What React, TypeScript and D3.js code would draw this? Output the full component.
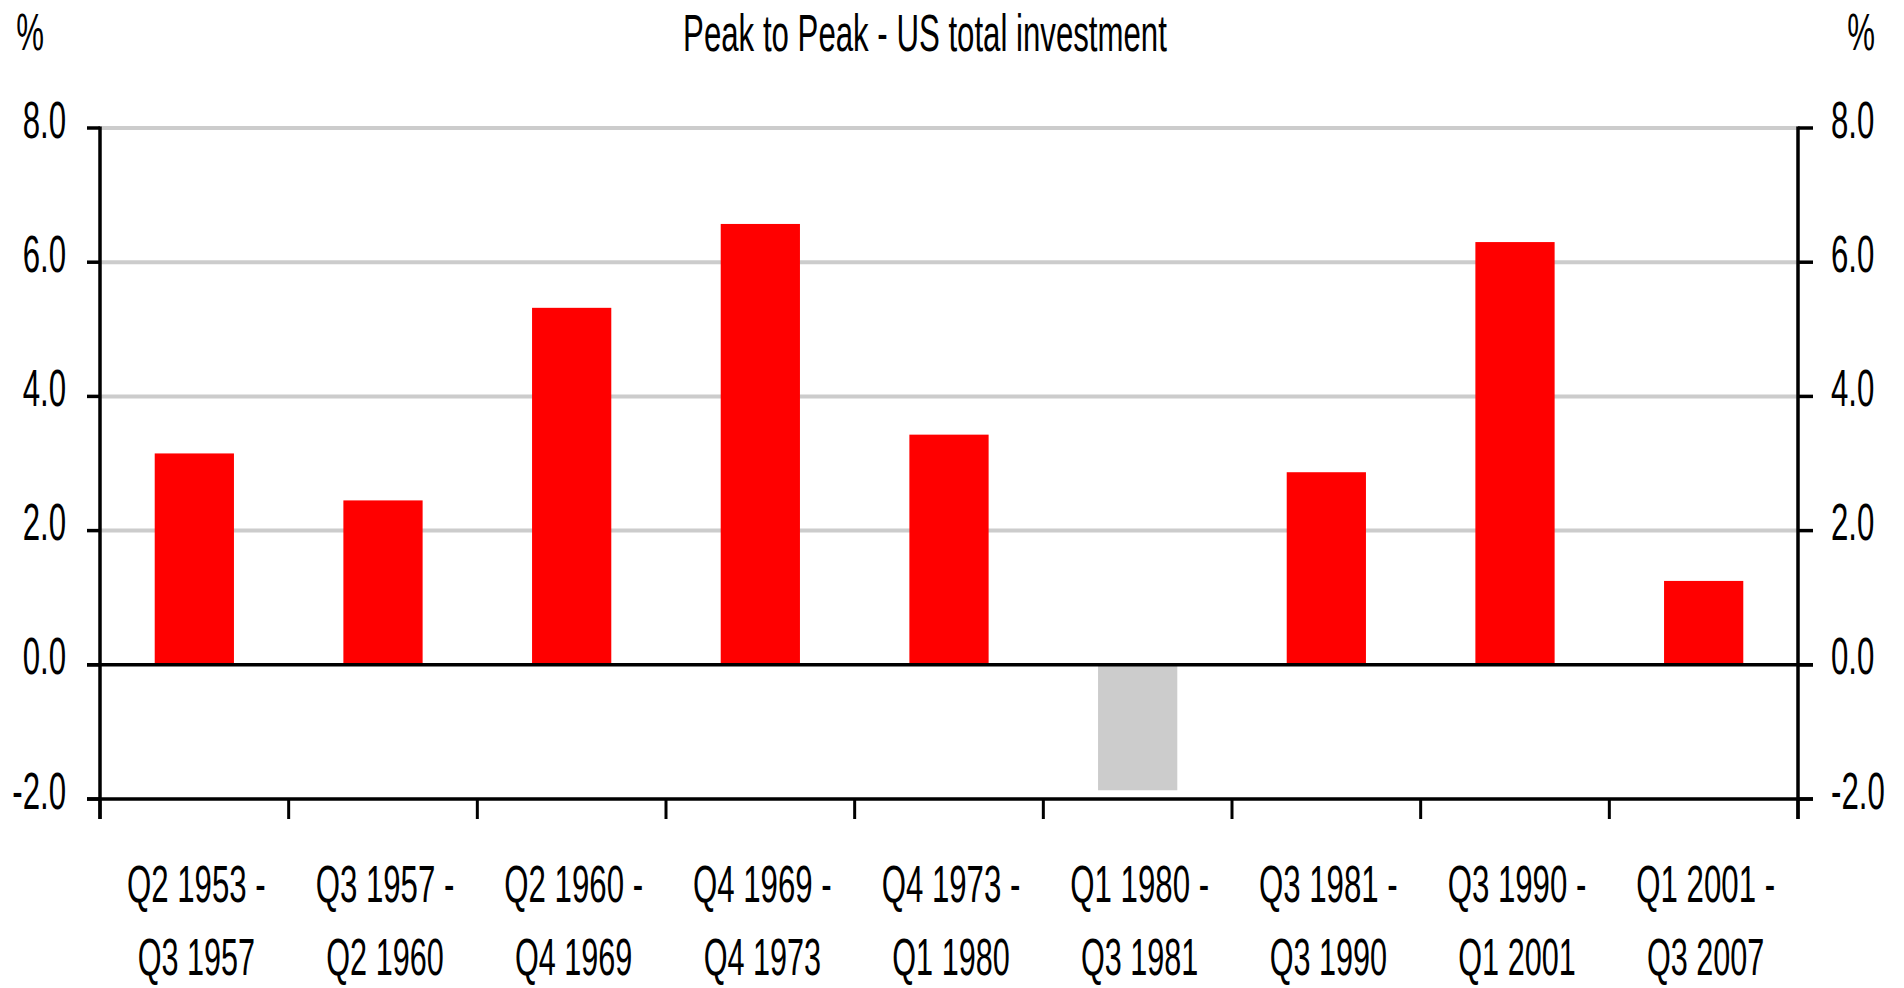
import * as d3 from "d3";

const starts = ["Q2 1953", "Q3 1957", "Q2 1960", "Q4 1969", "Q4 1973", "Q1 1980", "Q3 1981", "Q3 1990", "Q1 2001"];
const ends = ["Q3 1957", "Q2 1960", "Q4 1969", "Q4 1973", "Q1 1980", "Q3 1981", "Q3 1990", "Q1 2001", "Q3 2007"];
const values = [3.15, 2.45, 5.32, 6.57, 3.43, -1.87, 2.87, 6.3, 1.25];
const yTicks = [-2, 0, 2, 4, 6, 8];

const title = "Peak to Peak - US total investment";
const unit = "%";

const width = 1904;
const height = 988;
const left = 100;
const right = 1798;
const top = 128;
const bottom = 799;

const font = "'Liberation Sans', Arial, sans-serif";
const fontSize = 52;
const squeeze = 0.6;

// hyphen minus like the original, not the unicode one d3 gives
const fmt = (t: number) => d3.format(".1f")(t).replace("\u2212", "-");

function Label({ x, y, anchor, size = fontSize, children }: { x: number; y: number; anchor: string; size?: number; children: string }) {
  return (
    <text
      transform={`translate(${x},${y}) scale(${squeeze},1)`}
      textAnchor={anchor}
      fontFamily={font}
      fontSize={size}
      fill="#000"
    >
      {children}
    </text>
  );
}

export default function App() {
  const cats = starts.map((s, i) => s + " - " + ends[i]);

  const x = d3.scaleBand().domain(cats).range([left, right]).padding(0);
  const y = d3.scaleLinear().domain([-2, 8]).range([bottom, top]);
  const barW = x.bandwidth() * 0.42;

  const edges = cats.map((c) => x(c)!).concat([right]);

  return (
    <svg
      width={width}
      height={height}
      style={{ position: "absolute", left: 0, top: 0, display: "block", background: "#fff" }}
    >
      {/* gridlines */}
      {yTicks
        .filter((t) => t > 0)
        .map((t) => (
          <line key={"g" + t} x1={left} x2={right} y1={y(t)} y2={y(t)} stroke="#cccccc" strokeWidth={4} />
        ))}

      {/* bars */}
      {values.map((v, i) => {
        const cx = x(cats[i])! + x.bandwidth() / 2;
        return (
          <rect
            key={"b" + i}
            x={cx - barW / 2}
            y={y(Math.max(0, v))}
            width={barW}
            height={Math.abs(y(v) - y(0))}
            fill={v >= 0 ? "#ff0000" : "#cccccc"}
          />
        );
      })}

      {/* zero line and bottom axis */}
      <line x1={left - 13} x2={right + 15} y1={y(0)} y2={y(0)} stroke="#000" strokeWidth={3.5} />
      <line x1={left - 13} x2={right + 15} y1={y(-2)} y2={y(-2)} stroke="#000" strokeWidth={3.5} />

      {/* side axes */}
      <line x1={left} x2={left} y1={y(8) - 1.5} y2={bottom + 20} stroke="#000" strokeWidth={3.5} />
      <line x1={right} x2={right} y1={y(8) - 1.5} y2={bottom + 20} stroke="#000" strokeWidth={3.5} />

      {/* y ticks */}
      {yTicks.map((t) => (
        <g key={"t" + t}>
          <line x1={left - 13} x2={left} y1={y(t)} y2={y(t)} stroke="#000" strokeWidth={3.5} />
          <line x1={right} x2={right + 15} y1={y(t)} y2={y(t)} stroke="#000" strokeWidth={3.5} />
          <Label x={66} y={y(t) + 9.5} anchor="end">{fmt(t)}</Label>
          <Label x={1831} y={y(t) + 9.5} anchor="start">{fmt(t)}</Label>
        </g>
      ))}

      {/* category ticks */}
      {edges.map((e, i) => (
        <line key={"c" + i} x1={e} x2={e} y1={bottom} y2={bottom + 20} stroke="#000" strokeWidth={3} />
      ))}

      {/* category labels */}
      {cats.map((c, i) => {
        const cx = x(c)! + x.bandwidth() / 2;
        return (
          <g key={"l" + i}>
            <Label x={cx + 2} y={902} anchor="middle">{starts[i] + " -"}</Label>
            <Label x={cx + 2} y={975} anchor="middle" size={51}>{ends[i]}</Label>
          </g>
        );
      })}

      {/* title and units */}
      <Label x={925} y={51} anchor="middle">{title}</Label>
      <Label x={30} y={50} anchor="middle">{unit}</Label>
      <Label x={1861} y={50} anchor="middle">{unit}</Label>
    </svg>
  );
}
